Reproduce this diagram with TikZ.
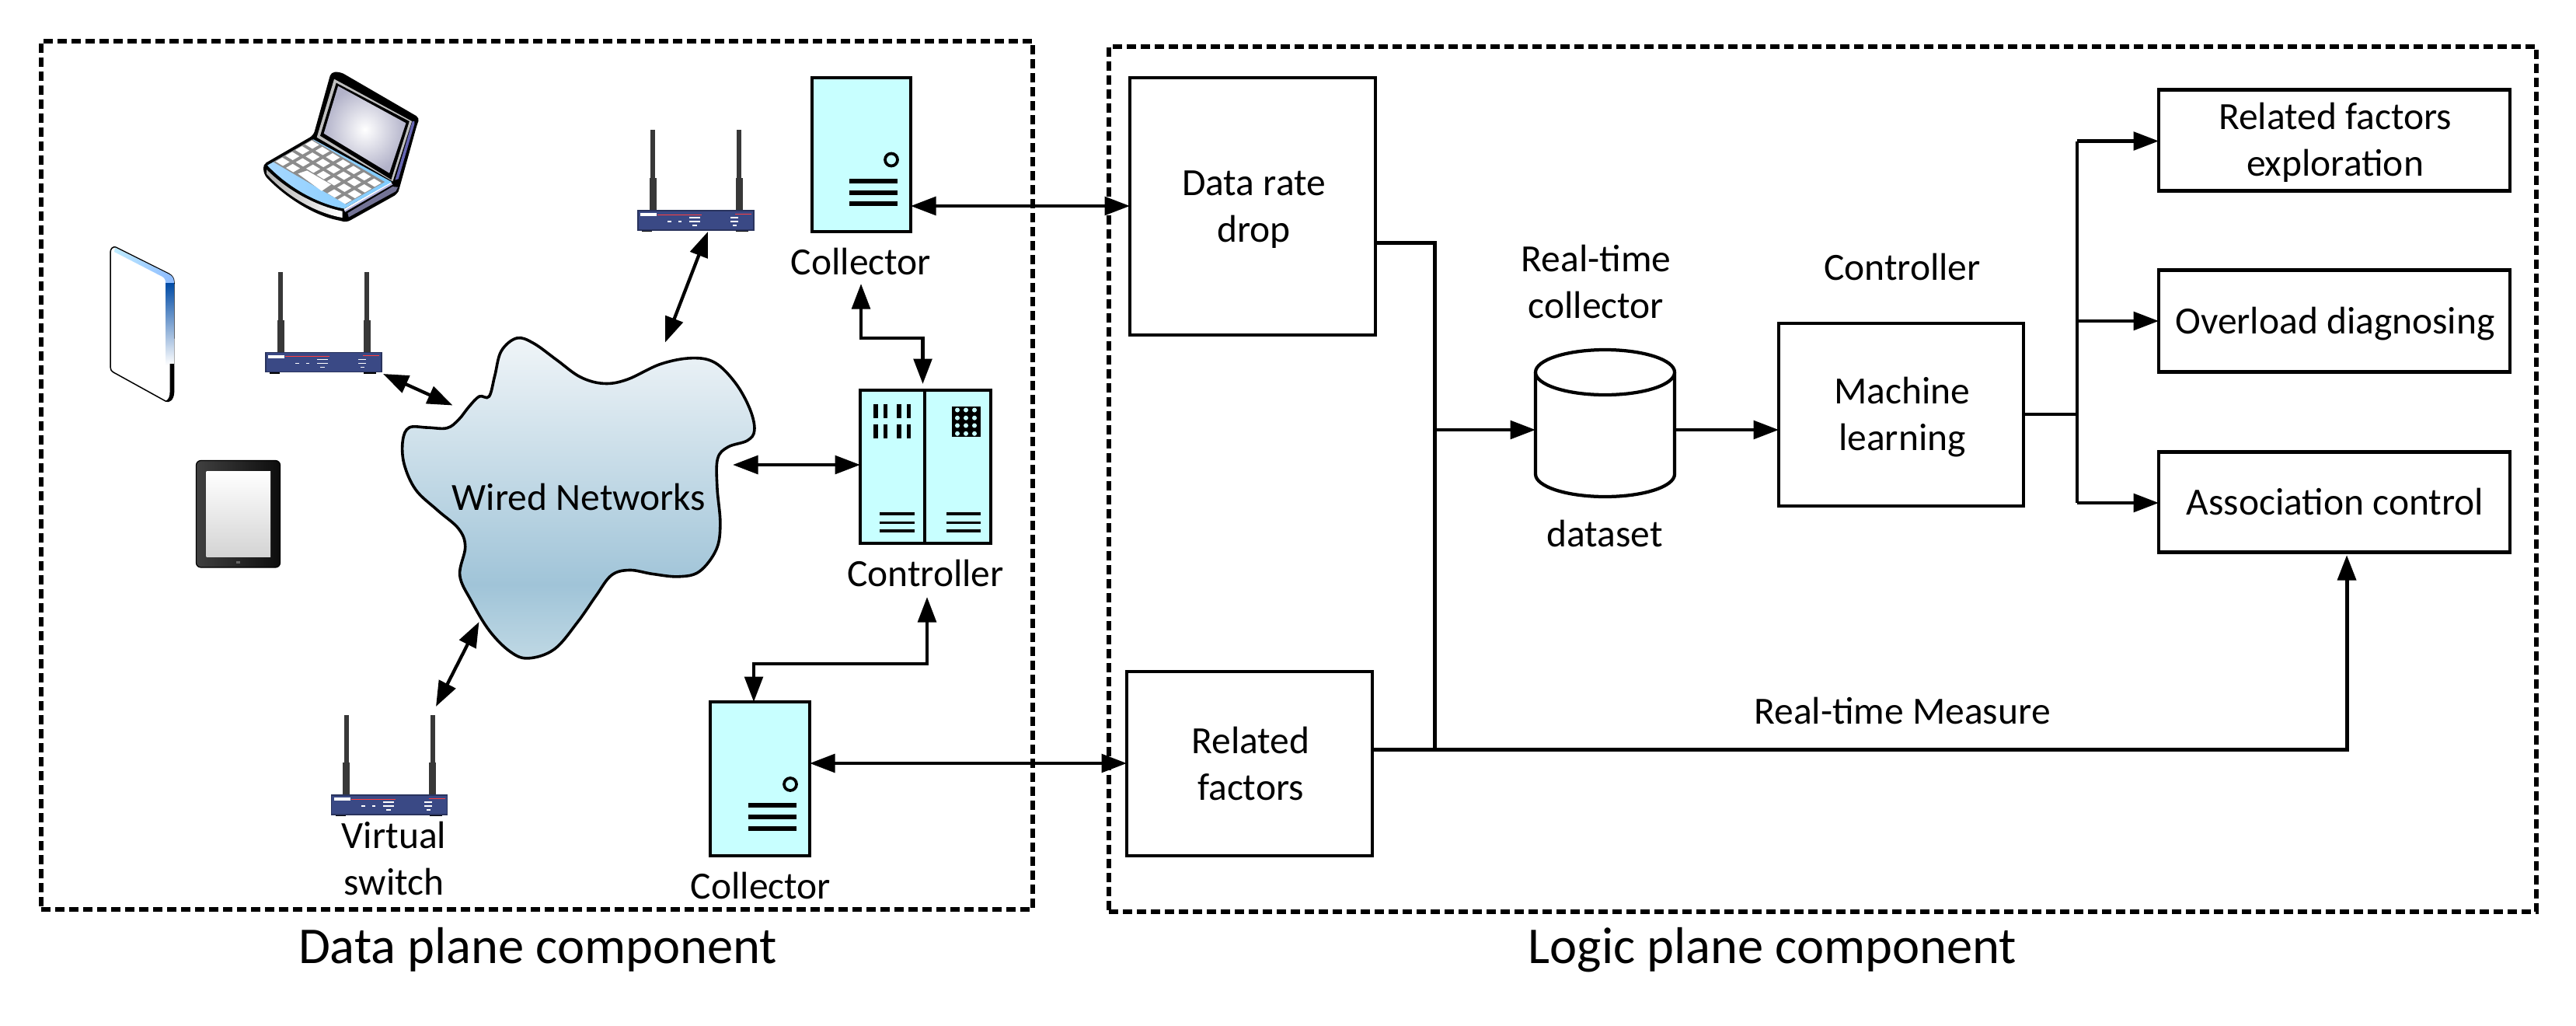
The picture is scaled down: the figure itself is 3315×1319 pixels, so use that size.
\documentclass[tikz,border=0pt]{standalone}
\usepackage{fontspec}
\setmainfont{Carlito}
\usetikzlibrary{arrows.meta,calc}
\definecolor{cyanfill}{HTML}{C8FFFF}
\definecolor{routerblue}{HTML}{3A4985}
\definecolor{cloudtop}{HTML}{F0F5F8}
\definecolor{cloudmid}{HTML}{A0C4D8}
\definecolor{cloudlow}{HTML}{BFD8E4}
\pgfdeclareverticalshading{cloudsh}{100bp}{color(0bp)=(cloudlow); color(25bp)=(cloudlow); color(36.5bp)=(cloudmid); color(75bp)=(cloudtop); color(100bp)=(cloudtop)}
\tikzset{
  lbl/.style={anchor=base,inner sep=0pt,outer sep=0pt,yshift=-0.3pt,font=\fontsize{9.9}{12}\selectfont,text=black},
  biglbl/.style={anchor=base,inner sep=0pt,outer sep=0pt,yshift=-0.4pt,font=\fontsize{13.3}{16}\selectfont,text=black},
  frame/.style={draw=black,line width=1.3pt,dash pattern=on 2.4pt off 1.2pt},
  whitebox/.style={draw=black,fill=white,line width=.85pt,inner sep=0pt,outer sep=0pt},
  cyanbox/.style={draw=black,fill=cyanfill,line width=.85pt,inner sep=0pt,outer sep=0pt},
  conn/.style={draw=black,line width=.85pt},
  heavy/.style={draw=black,line width=1pt},
  oneway/.style={conn,-{Triangle[length=6.5pt,width=4.7pt]}},
  twoway/.style={conn,{Triangle[length=6.5pt,width=4.7pt]}-{Triangle[length=6.5pt,width=4.7pt]}},
  slot/.style={draw=black,line width=1.1pt},
  rslot/.style={draw=black,line width=.7pt},
}
\newcommand{\routerdev}[4]{%
  \begin{scope}[shift={(#2,#3)}]
    \fill[black!78] (16,-#4) rectangle (22,-42);
    \fill[black!78] (14.5,-42) rectangle (23.5,0);
    \fill[black!78] (127,-#4) rectangle (133,-42);
    \fill[black!78] (125.5,-42) rectangle (134.5,0);
    \fill[black] (5,24) rectangle (18,27);
    \fill[black] (126,24) rectangle (142,27);
    \node[draw=routerblue!70!black,fill=routerblue,line width=.25pt,inner sep=0pt,outer sep=0pt,minimum width=149*0.2pt,minimum height=25*0.2pt] (#1) at (74.5,12.5) {};
    \fill[white] (3,3) rectangle (24,7);
    \draw[red!75!white,line width=.15pt] (25,5) -- (82,5);
    \draw[red!75!white,line width=.2pt] (125,4) -- (146,4);
    \fill[white] (38,13) rectangle (43,14.5);
    \fill[white] (52,13) rectangle (56,14.5);
    \fill[white] (66,8) rectangle (80,9.5);
    \fill[white] (66,13) rectangle (80,14.5);
    \fill[white] (70,18) rectangle (76,19.5);
    \fill[white] (119,8) rectangle (129,9.5);
    \fill[white] (119,13) rectangle (129,14.5);
    \fill[white] (122,18) rectangle (127,19.5);
  \end{scope}}
\begin{document}
\begin{tikzpicture}[x=0.2pt,y=-0.2pt]
\useasboundingbox (0,0) rectangle (3315,1319);

% frames
\node[frame,inner sep=0pt,outer sep=0pt,minimum width=1276*0.2pt,minimum height=1117*0.2pt] (dataframe) at (691,611.5) {};
\node[frame,inner sep=0pt,outer sep=0pt,minimum width=1837*0.2pt,minimum height=1113*0.2pt] (logicframe) at (2345.5,616.5) {};
\node[biglbl] (datatitle) at (692,1237) {Data plane component};
\node[biglbl] (logictitle) at (2281,1237) {Logic plane component};

% laptop
\begin{scope}[shift={(320,80)},x=0.0667pt,y=-0.0667pt]
  \fill[black,rounded corners=1pt] (318,38)--(355,38)--(660,215)--(650,240)--(582,485)--(575,508)--(378,618)--(355,612) .. controls (250,590) and (140,520) .. (60,435)--(55,395)--(250,282)--cycle;
  \shade[left color=black!30,right color=white] (70,415) .. controls (150,495) and (260,555) .. (362,575) -- (362,600) .. controls (250,580) and (140,510) .. (70,432)--cycle;
  \fill[black!50!blue!30!white] (368,568)--(550,465)--(556,472)--(372,578)--cycle;
  \fill[white] (368,566)--(548,462)--(552,466)--(370,572)--cycle;
  \fill[black!75!blue!55!white] (382,582)--(555,480)--(576,482)--(568,498)--(386,598)--cycle;
  \shade[left color=blue!45!cyan!35!white,right color=blue!40!cyan!50!white] (72,398)--(250,298)--(552,462)--(368,565) .. controls (260,545) and (150,480) .. (72,398)--cycle;
  \fill[black!45] (95,385)--(245,298)--(525,462)--(375,548)--cycle;
  \foreach \i in {0,...,6}{\foreach \j in {0,1,2}{
    \fill[white,shift={(245+40*\i-38*\j,318+24.5*\i+22*\j)}] (1,16)--(27,1)--(-1,-16)--(-27,-1)--cycle;}}
  \foreach \i in {0,1,5,6}{
    \fill[white,shift={(245+40*\i-38*3,318+24.5*\i+22*3)}] (1,16)--(27,1)--(-1,-16)--(-27,-1)--cycle;}
  \fill[white] (190,430)--(225,418)--(318,472)--(282,497)--cycle;
  \fill[blue!50!black!60!white] (640,228)--(632,228)--(565,455)--(578,450)--(640,238)--cycle;
  \fill[black!25] (330,65)--(630,228)--(556,460)--(263,290)--cycle;
  \fill[black] (338,80)--(620,228)--(550,453)--(276,284)--cycle;
  \shade[inner color=white,outer color=blue!30!black!30!white] (345,92)--(607,235)--(543,428)--(290,275)--cycle;
\end{scope}

% book device
\draw[black,line width=.3pt,fill=white] (142,325) .. controls (142,320) and (145,317) .. (149,318) -- (217,352) .. controls (222,355) and (224,358) .. (224,364) -- (223.5,505) .. controls (223,514) and (218,518) .. (213,516) -- (146,479) .. controls (143,477) and (142,475) .. (142,472) -- cycle;
\shade[left color=blue!30!cyan!25!white,right color=blue!60!cyan!45!white] (148,318.5) -- (217,352.5) .. controls (222,355) and (224,358) .. (224,364) -- (213,364) .. controls (213,360) and (212,358) .. (209,356) -- (147,324) -- cycle;
\shade[top color=blue!55!cyan!65!black,bottom color=white] (213,364) rectangle (224,470);
\fill[black] (218.5,468) -- (224,468) -- (223.5,505) .. controls (223,514) and (218,518) .. (213,516) .. controls (217,514) and (218.5,510) .. (218.5,505) -- cycle;

% tablet
\draw[black,line width=.25pt,rounded corners=1.2pt,left color=black!75,right color=black!95] (252.5,592.5) rectangle (360.5,730);
\shade[top color=white,bottom color=black!17] (265.5,606) rectangle (348,716);
\fill[black!60] (304,722) rectangle (309,725);

% cloud
\begin{scope}[shift={(500,420)},x=0.0667pt,y=-0.0667pt]
\draw[shading=cloudsh,draw=black,line width=.72pt] plot[smooth cycle,tension=.6] coordinates {(55,440)(80,390)(150,390)(225,392)(270,360)(310,310)(350,270)(388,270)(410,190)(435,95)(495,45)(560,65)(650,130)(740,195)(830,220)(920,205)(1050,145)(1170,122)(1260,140)(1340,220)(1395,320)(1412,400)(1385,440)(1310,465)(1270,510)(1268,620)(1280,760)(1265,860)(1200,945)(1120,965)(1020,955)(930,940)(860,960)(800,1040)(730,1140)(640,1245)(540,1280)(470,1255)(390,1175)(320,1060)(275,960)(296,850)(270,780)(190,710)(105,630)(60,530)};
\end{scope}
\node[lbl] (wired) at (745,655) {Wired Networks};
\coordinate (cloudA) at (582.5,521.5);
\coordinate (cloudB) at (856,440.5);
\coordinate (cloudC) at (943,598);
\coordinate (cloudD) at (616.5,800);

% routers
\routerdev{routerA}{342}{453.5}{104}
\routerdev{routerB}{821}{271}{104}
\routerdev{routerC}{426.5}{1023}{103}
\coordinate (routerAend) at (493,481);
\coordinate (routerBend) at (911,298);
\coordinate (routerCend) at (561,909);
\node[lbl] (vs1) at (507,1090) {Virtual};
\node[lbl] (vs2) at (507,1150) {switch};

% collectors
\node[cyanbox,minimum width=127*0.2pt,minimum height=198*0.2pt] (colA) at (1108.5,199) {};
\draw[black,line width=.75pt] (1147,205.5) circle[radius=8];
\foreach \yy in {233,248,262} \draw[slot] (1093,\yy) -- (1155,\yy);
\node[lbl] (colAtxt) at (1108,352) {Collector};

\node[cyanbox,minimum width=128*0.2pt,minimum height=198*0.2pt] (colB) at (978,1002) {};
\draw[black,line width=.75pt] (1017,1009) circle[radius=8];
\foreach \yy in {1036,1051,1066} \draw[slot] (963,\yy) -- (1025,\yy);
\node[lbl] (colBtxt) at (979,1155) {Collector};

% controller
\node[cyanbox,minimum width=168*0.2pt,minimum height=197*0.2pt] (ctrl) at (1191,600.5) {};
\draw[black,line width=.85pt] (ctrl.north) ++(-1,0) -- ++(0,197);
\foreach \bx in {1124,1136.5,1154,1166.5} \foreach \by in {520,546} \fill[black] (\bx,\by) rectangle +(5.5,18);
\fill[black] (1225,523) rectangle (1262,562);
\foreach \gx in {1232,1243,1254} \foreach \gy in {527.5,537.7,547.5,557.8} \fill[cyanfill] (\gx,\gy) circle[radius=3];
\foreach \yy in {661,672.5,683} {\draw[rslot] (1132,\yy) -- (1177,\yy); \draw[rslot] (1218,\yy) -- (1262,\yy);}
\node[lbl] (ctrltxt) at (1191,753) {Controller};

% left connectors
\draw[twoway] (routerAend) -- (cloudA);
\draw[twoway] (routerBend) -- (cloudB);
\draw[twoway] (cloudD) -- (routerCend);
\draw[twoway] (cloudC) -- (ctrl.west |- cloudC);
\coordinate (colAdown) at (1108,365);
\coordinate (ctrlup) at (1187.5,494);
\draw[twoway] (colAdown) -- (1108,435) -- (1187.5,435) -- (ctrlup);
\coordinate (ctrlbelow) at (1193,768);
\coordinate (colBup) at (970,903);
\draw[twoway] (ctrlbelow) -- (1193,854) -- (970,854) -- (colBup);

% logic boxes
\node[whitebox,minimum width=316*0.2pt,minimum height=331*0.2pt] (drop) at (1612,265.5) {};
\node[lbl] (drop1) at (1613.5,250) {Data rate};
\node[lbl] (drop2) at (1613.5,310) {drop};
\node[whitebox,minimum width=316*0.2pt,minimum height=237*0.2pt] (rel) at (1608,982.5) {};
\node[lbl] (rel1) at (1609.5,968) {Related};
\node[lbl] (rel2) at (1609.5,1028) {factors};
\node[lbl] (rt1) at (2054,348) {Real-time};
\node[lbl] (rt2) at (2054,408) {collector};
\node[lbl] (dset) at (2065,702) {dataset};

% dataset cylinder
\node[inner sep=0pt,outer sep=0pt,minimum width=179*0.2pt,minimum height=189*0.2pt] (cyl) at (2065.5,544.5) {};
\draw[black,fill=white,line width=.85pt] (1976,479) -- (1976,610) arc[start angle=180,end angle=360,x radius=89.5,y radius=-29] -- (2155,479);
\draw[black,fill=white,line width=.85pt] (2065.5,479) ellipse[x radius=89.5,y radius=29];

\node[whitebox,minimum width=315*0.2pt,minimum height=235*0.2pt] (ml) at (2446.5,533.5) {};
\node[lbl] (ml1) at (2448,517.5) {Machine};
\node[lbl] (ml2) at (2448,578) {learning};
\node[lbl] (ctrl2) at (2448,359) {Controller};

\node[whitebox,minimum width=452*0.2pt,minimum height=130*0.2pt] (outA) at (3004,180.5) {};
\node[whitebox,minimum width=452*0.2pt,minimum height=131*0.2pt] (outB) at (3004,413) {};
\node[whitebox,minimum width=452*0.2pt,minimum height=129*0.2pt] (outC) at (3004,646) {};
\node[lbl] (outA1) at (3005,164.5) {Related factors};
\node[lbl] (outA2) at (3005,225) {exploration};
\node[lbl] (outB1) at (3005,428) {Overload diagnosing};
\node[lbl] (outC1) at (3005,660.5) {Association control};
\node[lbl] (meas) at (2448,930) {Real-time Measure};

% right connectors
\draw[twoway] (colA.east |- 0,265) -- (drop.west |- 0,265);
\draw[twoway] (colB.east |- 0,982) -- (rel.west |- 0,982);
\coordinate (busTop) at (1846.5,312.5);
\coordinate (busBot) at (1846.5,964.5);
\coordinate (busMid) at (1846.5,553);
\draw[conn] (drop.east |- busTop) -- (busTop) -- (busBot);
\draw[oneway] (busMid) -- (cyl.west |- busMid);
\draw[oneway] (cyl.east |- busMid) -- (ml.west |- busMid);
\coordinate (splitX) at (2673,533);
\draw[conn] (ml.east |- splitX) -- (splitX);
\draw[conn] (2673,181.5) -- (2673,647);
\draw[oneway] (2673,181.5) -- (outA.west |- 0,181.5);
\draw[oneway] (2673,413) -- (outB.west);
\draw[oneway] (2673,647) -- (outC.west |- 0,647);
\draw[heavy,-{Triangle[length=6.5pt,width=4.7pt]}] (rel.east |- busBot) -- (3020,964.5) -- (3020,714);
\end{tikzpicture}
\end{document}
